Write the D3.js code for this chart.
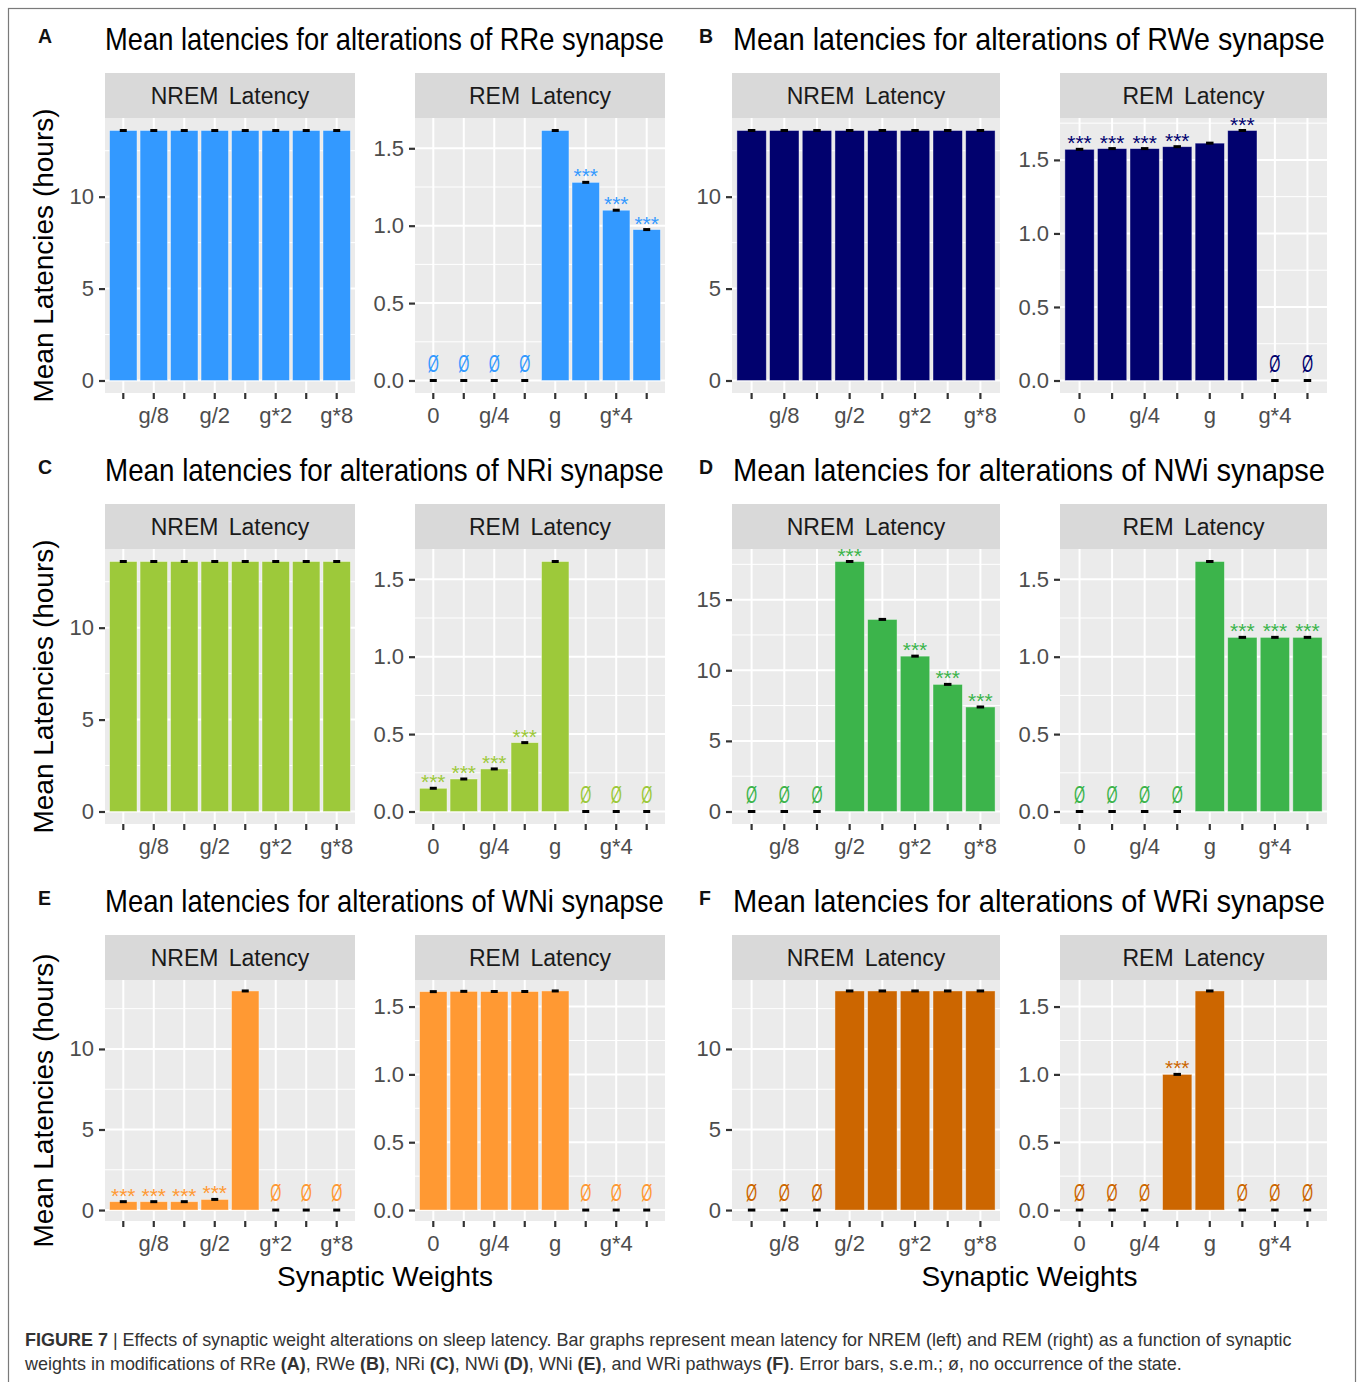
<!DOCTYPE html>
<html>
<head>
<meta charset="utf-8">
<script src="https://cdn.jsdelivr.net/npm/d3@7"></script>
<style>
  html, body { margin: 0; padding: 0; background: #ffffff; }
  svg { display: block; font-family: Arial, "Liberation Sans", Helvetica, sans-serif; }
</style>
</head>
<body>
<svg id="fig" width="1358" height="1382"></svg>
<script>
// ---- categories and axis labels ----
const weights = ["0", "g/8", "g/4", "g/2", "g", "g*2", "g*4", "g*8"];
const nremTickLabels = ["", "g/8", "", "g/2", "", "g*2", "", "g*8"];
const remTickLabels = ["0", "", "g/4", "", "g", "", "g*4", ""];
const nremTicks = [0, 5, 10, 15];
const remTicks = [0, 0.5, 1.0, 1.5];

const panelLetters = ["A", "B", "C", "D", "E", "F"];
const synapses = ["RRe", "RWe", "NRi", "NWi", "WNi", "WRi"];
const barColors = ["#3399FF", "#01016E", "#9DC93A", "#3CB44B", "#FF9933", "#CC6600"];

// ---- mean latencies (hours); null = state never occurred ----
const nremRRe = [13.6, 13.6, 13.6, 13.6, 13.6, 13.6, 13.6, 13.6];
const remRRe  = [null, null, null, null, 1.615, 1.28, 1.10, 0.975];
const nremRWe = [13.6, 13.6, 13.6, 13.6, 13.6, 13.6, 13.6, 13.6];
const remRWe  = [1.572, 1.577, 1.577, 1.59, 1.614, 1.70, null, null];
const nremNRi = [13.6, 13.6, 13.6, 13.6, 13.6, 13.6, 13.6, 13.6];
const remNRi  = [0.15, 0.21, 0.275, 0.445, 1.615, null, null, null];
const nremNWi = [null, null, null, 17.7, 13.6, 11.0, 9.0, 7.4];
const remNWi  = [null, null, null, null, 1.615, 1.125, 1.125, 1.125];
const nremWNi = [0.52, 0.52, 0.52, 0.66, 13.6, null, null, null];
const remWNi  = [1.61, 1.612, 1.611, 1.611, 1.615, null, null, null];
const nremWRi = [null, null, null, 13.6, 13.6, 13.6, 13.6, 13.6];
const remWRi  = [null, null, null, 1.0, 1.615, null, null, null];

// ---- significance marks vs. baseline weight g ----
const sigNremRRe = ["", "", "", "", "", "", "", ""];
const sigRemRRe  = ["", "", "", "", "", "***", "***", "***"];
const sigNremRWe = ["", "", "", "", "", "", "", ""];
const sigRemRWe  = ["***", "***", "***", "***", "", "***", "", ""];
const sigNremNRi = ["", "", "", "", "", "", "", ""];
const sigRemNRi  = ["***", "***", "***", "***", "", "", "", ""];
const sigNremNWi = ["", "", "", "***", "", "***", "***", "***"];
const sigRemNWi  = ["", "", "", "", "", "***", "***", "***"];
const sigNremWNi = ["***", "***", "***", "***", "", "", "", ""];
const sigRemWNi  = ["", "", "", "", "", "", "", ""];
const sigNremWRi = ["", "", "", "", "", "", "", ""];
const sigRemWRi  = ["", "", "", "***", "", "", "", ""];

const nremMeans = [nremRRe, nremRWe, nremNRi, nremNWi, nremWNi, nremWRi];
const remMeans  = [remRRe, remRWe, remNRi, remNWi, remWNi, remWRi];
const nremSig   = [sigNremRRe, sigNremRWe, sigNremNRi, sigNremNWi, sigNremWNi, sigNremWRi];
const remSig    = [sigRemRRe, sigRemRWe, sigRemNRi, sigRemNWi, sigRemWNi, sigRemWRi];

// ---- layout ----
const FONT = 'Arial, "Liberation Sans", Helvetica, sans-serif';
const rowTops = [73, 504, 935];
const rowPanelH = [275, 275, 241];
const columns = [
  { nrem: [105, 355], rem: [415, 665], title: [105, 664], letterX: 38 },
  { nrem: [732, 1000], rem: [1060, 1327], title: [733, 1325], letterX: 699 }
];
const STRIP_H = 45;

const svg = d3.select("#fig");

// outer frame
svg.append("rect")
  .attr("x", 8.5).attr("y", 8.5).attr("width", 1347).attr("height", 1400)
  .attr("fill", "none").attr("stroke", "#7a7a7a").attr("stroke-width", 1.2);

function styleAxis(sel) {
  sel.attr("font-size", null).attr("font-family", null);
  sel.select(".domain").remove();
  sel.selectAll(".tick line").attr("stroke", "#333333").attr("stroke-width", 2.2);
  sel.selectAll(".tick text")
    .attr("fill", "#4D4D4D").attr("font-size", 22).attr("font-family", FONT);
}

// squeeze a text horizontally so that it spans exactly `width` pixels
function fitWidth(t, x, y, width) {
  const sx = width / t.node().getComputedTextLength();
  t.attr("x", 0).attr("y", 0).attr("transform", `translate(${x},${y}) scale(${sx},1)`);
  return sx;
}

function drawFacet(parent, o) {
  const g = parent.append("g");
  const pTop = o.top + STRIP_H, pBot = pTop + o.ph;
  const [x0, x1] = o.xr;
  const x = d3.scaleBand().domain(weights).range([x0, x1])
    .paddingInner(0.1).paddingOuter(0.15);
  const step = x.step(), bw = x.bandwidth();
  const cx = w => x(w) + bw / 2;
  const maxV = d3.max(o.means, v => (v == null ? 0 : v));
  const y = d3.scaleLinear().domain([-0.05 * maxV, 1.05 * maxV]).range([pBot, pTop]);
  const [lo, hi] = y.domain();
  const inside = v => v >= lo && v <= hi;
  const major = o.ticks.filter(inside);
  const half = (o.ticks[1] - o.ticks[0]) / 2;
  const minor = o.ticks.map(t => t + half).filter(inside);

  // strip
  g.append("rect").attr("x", x0).attr("y", o.top)
    .attr("width", x1 - x0).attr("height", STRIP_H).attr("fill", "#D9D9D9");
  g.append("text").attr("x", (x0 + x1) / 2).attr("y", o.top + 31)
    .attr("text-anchor", "middle").attr("font-size", 23).attr("fill", "#1A1A1A")
    .attr("word-spacing", 4).text(o.strip);

  // panel background and grid
  g.append("rect").attr("x", x0).attr("y", pTop)
    .attr("width", x1 - x0).attr("height", o.ph).attr("fill", "#EBEBEB");
  g.selectAll("line.minor").data(minor).join("line").attr("class", "minor")
    .attr("x1", x0).attr("x2", x1).attr("y1", d => y(d)).attr("y2", d => y(d))
    .attr("stroke", "#ffffff").attr("stroke-width", 1);
  g.selectAll("line.majory").data(major).join("line").attr("class", "majory")
    .attr("x1", x0).attr("x2", x1).attr("y1", d => y(d)).attr("y2", d => y(d))
    .attr("stroke", "#ffffff").attr("stroke-width", 2);
  g.selectAll("line.majorx").data(weights).join("line").attr("class", "majorx")
    .attr("x1", d => cx(d)).attr("x2", d => cx(d)).attr("y1", pTop).attr("y2", pBot)
    .attr("stroke", "#ffffff").attr("stroke-width", 2);

  const rows = weights.map((w, i) => ({ w, v: o.means[i], s: o.sig[i] }));

  // bars
  g.selectAll("rect.bar").data(rows.filter(d => d.v != null)).join("rect").attr("class", "bar")
    .attr("x", d => x(d.w)).attr("width", bw)
    .attr("y", d => y(d.v)).attr("height", d => y(0) - y(d.v))
    .attr("fill", o.color)
    .attr("stroke", "#ffffff").attr("stroke-opacity", 0.5).attr("stroke-width", 0.8);

  // error bars (s.e.m. is tiny, drawn as a short dash)
  g.selectAll("line.err").data(rows).join("line").attr("class", "err")
    .attr("x1", d => cx(d.w) - 0.115 * step).attr("x2", d => cx(d.w) + 0.115 * step)
    .attr("y1", d => y(d.v == null ? 0 : d.v)).attr("y2", d => y(d.v == null ? 0 : d.v))
    .attr("stroke", "#000000").attr("stroke-width", 3);

  // significance stars
  g.selectAll("text.sig").data(rows.filter(d => d.s)).join("text").attr("class", "sig")
    .attr("x", d => cx(d.w)).attr("y", d => y(d.v) + 1)
    .attr("text-anchor", "middle").attr("font-size", 21).attr("fill", o.color)
    .text(d => d.s);

  // no occurrence of the state
  g.selectAll("text.none").data(rows.filter(d => d.v == null)).join("text").attr("class", "none")
    .attr("transform", d => `translate(${cx(d.w)},${y(0) - 9}) scale(0.62,1)`)
    .attr("text-anchor", "middle").attr("font-size", 23).attr("fill", o.color)
    .text("\u00D8");

  // axes
  g.append("g").attr("transform", `translate(${x0},0)`)
    .call(d3.axisLeft(y).tickValues(major).tickFormat(o.fmt).tickSize(6).tickPadding(5))
    .call(styleAxis);
  g.append("g").attr("transform", `translate(0,${pBot})`)
    .call(d3.axisBottom(x).tickFormat(d => o.tickLabels[weights.indexOf(d)])
      .tickSize(6).tickPadding(8))
    .call(styleAxis);
}

synapses.forEach((syn, i) => {
  const row = Math.floor(i / 2), col = columns[i % 2];
  const top = rowTops[row], ph = rowPanelH[row];
  const g = svg.append("g");

  // panel letter
  g.append("text").attr("x", col.letterX).attr("y", top - 30)
    .attr("font-size", 19.5).attr("font-weight", "bold").attr("fill", "#111111")
    .text(panelLetters[i]);

  // title (condensed to its column width)
  const title = g.append("text").attr("font-size", 32).attr("fill", "#000000")
    .text(`Mean latencies for alterations of ${syn} synapse`);
  fitWidth(title, col.title[0], top - 23, col.title[1] - col.title[0]);

  drawFacet(g, {
    xr: col.nrem, top, ph, strip: "NREM Latency",
    means: nremMeans[i], sig: nremSig[i], color: barColors[i],
    ticks: nremTicks, fmt: d3.format("d"), tickLabels: nremTickLabels
  });
  drawFacet(g, {
    xr: col.rem, top, ph, strip: "REM Latency",
    means: remMeans[i], sig: remSig[i], color: barColors[i],
    ticks: remTicks, fmt: d3.format(".1f"), tickLabels: remTickLabels
  });

  // y-axis title on the left column
  if (i % 2 === 0) {
    const yc = top + STRIP_H + ph / 2;
    g.append("text").attr("transform", `translate(53,${yc}) rotate(-90)`)
      .attr("text-anchor", "middle").attr("font-size", 28).attr("fill", "#000000")
      .text("Mean Latencies (hours)");
  }
  // x-axis title under the bottom row
  if (row === 2) {
    g.append("text").attr("x", (col.nrem[0] + col.rem[1]) / 2).attr("y", 1286)
      .attr("text-anchor", "middle").attr("font-size", 28).attr("fill", "#000000")
      .text("Synaptic Weights");
  }
});

// ---- caption ----
const captionLine1 = [
  ["FIGURE 7", true], [" | ", false],
  ["Effects of synaptic weight alterations on sleep latency. Bar graphs represent mean latency for NREM (left) and REM (right) as a function of synaptic", false]
];
const captionLine2 = [
  ["weights in modifications of RRe ", false], ["(A)", true], [", RWe ", false], ["(B)", true],
  [", NRi ", false], ["(C)", true], [", NWi ", false], ["(D)", true], [", WNi ", false], ["(E)", true],
  [", and WRi pathways ", false], ["(F)", true],
  [". Error bars, s.e.m.; \u00F8, no occurrence of the state.", false]
];
function captionLine(parts) {
  const t = svg.append("text").attr("x", 0).attr("y", 0)
    .attr("font-size", 17.5).attr("fill", "#333333");
  parts.forEach(([s, b]) => t.append("tspan").attr("font-weight", b ? "bold" : null).text(s));
  return t;
}
const cap1 = captionLine(captionLine1);
const cap2 = captionLine(captionLine2);
const sx = fitWidth(cap1, 25, 1346, 1267);
cap2.attr("transform", `translate(25,1370) scale(${sx},1)`);
</script>
</body>
</html>
